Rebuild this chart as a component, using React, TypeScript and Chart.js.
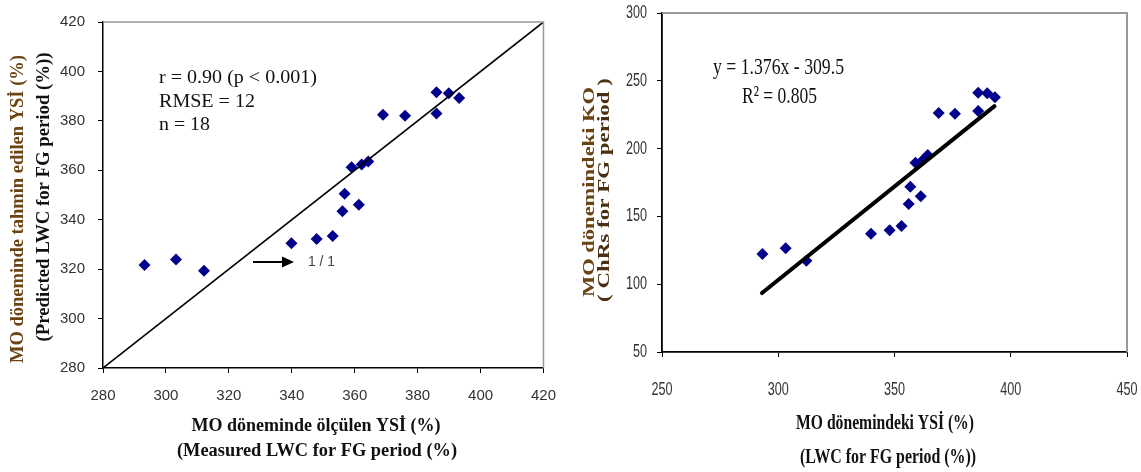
import React, { useEffect, useRef } from "react";
import { Chart, registerables } from "chart.js";

Chart.register(...registerables);

// ---- Data ----
// Measured LWC for FG period (%), shared by both panels
const measuredLWC = [293.2, 303.2, 312.1, 339.9, 347.9, 353.0, 356.1, 356.8, 361.3, 359.0, 362.2, 364.3, 369.0, 376.0, 386.0, 386.0, 389.9, 393.2];
// Predicted LWC for FG period (%)
const predictedLWC = [321.7, 323.9, 319.3, 330.5, 332.2, 333.4, 343.4, 350.5, 346.1, 361.2, 362.3, 363.6, 382.5, 382.1, 391.6, 383.0, 391.2, 389.2];
// ChRs for FG period
const chrsFG = [122.3, 126.5, 117.3, 137.2, 139.7, 142.9, 159.1, 171.9, 164.8, 189.6, 191.6, 195.3, 226.3, 225.7, 241.2, 227.7, 240.8, 237.8];

// 1:1 line (left panel)
const oneToOneX = [280, 420];
const oneToOneY = [280, 420];
// Trend line y = 1.376x - 309.5 (right panel), end points as drawn
const trendX = [293, 393];
const trendY = [93.5, 231.3];

// Axis ranges / tick steps
const leftXTicks = [280, 420, 20];
const leftYTicks = [280, 420, 20];
const rightXTicks = [250, 450, 50];
const rightYTicks = [50, 300, 50];

const SERIF = "'Liberation Serif', 'Times New Roman', serif";
const SANS = "'Liberation Sans', Arial, sans-serif";
const BROWN = "#6b4414";

type TextOpt = {
  font: string;
  color: string;
  align?: CanvasTextAlign;
  len?: number;
  sx?: number;
  vertical?: boolean;
  squash?: number;
};

function drawText(ctx: CanvasRenderingContext2D, text: string, x: number, y: number, o: TextOpt) {
  ctx.save();
  ctx.font = o.font;
  ctx.fillStyle = o.color;
  ctx.textBaseline = "middle";
  ctx.textAlign = o.align || "center";
  const w = ctx.measureText(text).width;
  const s = o.len ? o.len / w : o.sx ?? 1;
  ctx.translate(x, y);
  if (o.vertical) {
    ctx.rotate(-Math.PI / 2);
    ctx.scale(s, o.squash ?? 1);
  } else {
    ctx.scale(s, 1);
  }
  ctx.fillText(text, 0, 0);
  ctx.restore();
}

function borderPlugin(color: string, width: number) {
  return {
    id: "grayBorder",
    afterDatasetsDraw(chart: any) {
      const { ctx, chartArea: a } = chart;
      ctx.save();
      ctx.strokeStyle = color;
      ctx.lineWidth = width;
      ctx.beginPath();
      ctx.moveTo(a.left, a.top);
      ctx.lineTo(a.right, a.top);
      ctx.lineTo(a.right, a.bottom);
      ctx.stroke();
      ctx.restore();
    },
  };
}

function makeScales(xr: number[], yr: number[], xw: number, yw: number, tickFont: any, xPad: number, yPad: number, bw: number, showLabels: boolean) {
  const common = (r: number[]) => ({
    type: "linear" as const,
    min: r[0],
    max: r[1],
    grid: { drawOnChartArea: false, drawTicks: true, tickLength: 5, color: "#000", lineWidth: 1 },
    border: { display: true, color: "#000", width: bw },
    title: { display: false },
  });
  return {
    x: {
      ...common(xr),
      position: "bottom" as const,
      ticks: { display: showLabels, stepSize: xr[2], font: tickFont, color: "#333", padding: xPad, maxRotation: 0, autoSkip: false },
      afterFit: (s: any) => { s.height = xw; },
    },
    y: {
      ...common(yr),
      position: "left" as const,
      ticks: { display: showLabels, stepSize: yr[2], font: tickFont, color: "#333", padding: yPad, autoSkip: false },
      afterFit: (s: any) => { s.width = yw; },
    },
  };
}

function pts(xs: number[], ys: number[]) {
  return xs.map((x, i) => ({ x, y: ys[i] }));
}

export default function App() {
  const leftRef = useRef<HTMLCanvasElement | null>(null);
  const rightRef = useRef<HTMLCanvasElement | null>(null);

  useEffect(() => {
    const leftText = {
      id: "leftText",
      afterDraw(chart: any) {
        const ctx = chart.ctx as CanvasRenderingContext2D;
        drawText(ctx, "MO döneminde tahmin edilen YSİ (%)", 18, 209, { font: `bold 18px ${SERIF}`, color: BROWN, vertical: true, len: 308 });
        drawText(ctx, "(Predicted LWC for FG period (%))", 44, 197, { font: `bold 18px ${SERIF}`, color: "#111", vertical: true, len: 289 });
        drawText(ctx, "MO döneminde ölçülen YSİ (%)", 316, 426, { font: `bold 18px ${SERIF}`, color: "#111", len: 249 });
        drawText(ctx, "(Measured LWC for FG period (%)", 317, 451, { font: `bold 18px ${SERIF}`, color: "#111", len: 280 });
        drawText(ctx, "r = 0.90 (p < 0.001)", 159, 78, { font: `19px ${SERIF}`, color: "#111", align: "left", len: 158 });
        drawText(ctx, "RMSE = 12", 159, 102, { font: `19px ${SERIF}`, color: "#111", align: "left", len: 96 });
        drawText(ctx, "n = 18", 159, 125, { font: `19px ${SERIF}`, color: "#111", align: "left", len: 51 });
        drawText(ctx, "1 / 1", 308, 262, { font: `15px ${SANS}`, color: "#444", align: "left", len: 27 });
        // arrow
        ctx.save();
        ctx.strokeStyle = "#000";
        ctx.fillStyle = "#000";
        ctx.lineWidth = 2;
        ctx.beginPath();
        ctx.moveTo(253, 262);
        ctx.lineTo(284, 262);
        ctx.stroke();
        ctx.beginPath();
        ctx.moveTo(294, 262);
        ctx.lineTo(282, 256.5);
        ctx.lineTo(282, 267.5);
        ctx.closePath();
        ctx.fill();
        ctx.restore();
      },
    };

    const rightText = {
      id: "rightText",
      afterDraw(chart: any) {
        const ctx = chart.ctx as CanvasRenderingContext2D;
        // condensed tick labels, placed through the chart's own scales
        const xs = chart.scales.x;
        const ys = chart.scales.y;
        const tf = `18px ${SANS}`;
        xs.ticks.forEach((t: any) => {
          drawText(ctx, String(t.value), xs.getPixelForValue(t.value), 390, { font: tf, color: "#333", sx: 0.7 });
        });
        ys.ticks.forEach((t: any) => {
          drawText(ctx, String(t.value), ys.left + ys.width - 15, ys.getPixelForValue(t.value), { font: tf, color: "#333", sx: 0.7, align: "right" });
        });
        drawText(ctx, "MO dönemindeki KO", 20, 192, { font: `bold 21px ${SERIF}`, color: BROWN, vertical: true, len: 210, squash: 0.8 });
        drawText(ctx, "( ChRs for FG period )", 35, 190, { font: `bold 21px ${SERIF}`, color: "#4a3010", vertical: true, len: 224, squash: 0.8 });
        drawText(ctx, "MO dönemindeki YSİ (%)", 315, 423, { font: `bold 22px ${SERIF}`, color: "#111", len: 178 });
        drawText(ctx, "(LWC for FG period (%))", 318, 457, { font: `bold 22px ${SERIF}`, color: "#111", len: 176 });
        drawText(ctx, "y = 1.376x - 309.5", 143, 68, { font: `24px ${SERIF}`, color: "#111", align: "left", len: 131 });
        drawText(ctx, "R² = 0.805", 172, 97, { font: `24px ${SERIF}`, color: "#111", align: "left", len: 75 });
      },
    };

    const left = new Chart(leftRef.current as HTMLCanvasElement, {
      type: "scatter",
      data: {
        datasets: [
          {
            data: pts(oneToOneX, oneToOneY),
            showLine: true,
            borderColor: "#000",
            borderWidth: 1.6,
            pointRadius: 0,
          } as any,
          {
            data: pts(measuredLWC, predictedLWC),
            pointStyle: "rectRot",
            pointRadius: 6,
            backgroundColor: "#00008b",
            borderColor: "#00008b",
            borderWidth: 0,
          },
        ],
      },
      options: {
        animation: false,
        responsive: false,
        layout: { padding: { left: 0, right: 22, top: 13, bottom: 0 } },
        plugins: { legend: { display: false }, tooltip: { enabled: false } },
        scales: makeScales(leftXTicks, leftYTicks, 472 - 368, 103, { family: SANS, size: 15 }, 14, 13, 1.5, true) as any,
      },
      plugins: [borderPlugin("#999", 1.5), leftText],
    });

    const right = new Chart(rightRef.current as HTMLCanvasElement, {
      type: "scatter",
      data: {
        datasets: [
          {
            data: pts(trendX, trendY),
            showLine: true,
            borderColor: "#000",
            borderWidth: 4,
            borderCapStyle: "round",
            pointRadius: 0,
          } as any,
          {
            data: pts(measuredLWC, chrsFG),
            pointStyle: "rectRot",
            pointRadius: 6,
            backgroundColor: "#00008b",
            borderColor: "#00008b",
            borderWidth: 0,
          },
        ],
      },
      options: {
        animation: false,
        responsive: false,
        layout: { padding: { left: 0, right: 14, top: 13, bottom: 0 } },
        plugins: { legend: { display: false }, tooltip: { enabled: false } },
        scales: makeScales(rightXTicks, rightYTicks, 472 - 352, 92, { family: SANS, size: 16 }, 22, 11, 1.8, false) as any,
      },
      plugins: [borderPlugin("#999", 2), rightText],
    });

    return () => {
      left.destroy();
      right.destroy();
    };
  }, []);

  return (
    <div style={{ position: "absolute", left: 0, top: 0, width: 1141, height: 472, background: "#fff", overflow: "hidden" }}>
      <canvas ref={leftRef} width={570} height={472} style={{ position: "absolute", left: 0, top: 0, width: 570, height: 472 }} />
      <canvas ref={rightRef} width={571} height={472} style={{ position: "absolute", left: 570, top: 0, width: 571, height: 472 }} />
    </div>
  );
}
